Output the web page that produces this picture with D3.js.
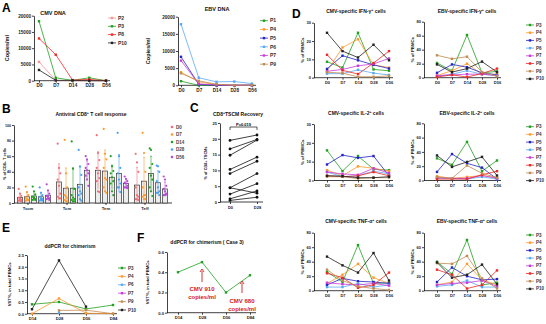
<!DOCTYPE html>
<html>
<head>
<meta charset="utf-8">
<script src="https://cdn.jsdelivr.net/npm/d3@7"></script>
<style>
  body { margin: 0; background: #fff; }
  svg { display: block; }
</style>
</head>
<body>
<svg width="546" height="324"></svg>
<script>
const svg = d3.select("svg").attr("font-family", "'Liberation Sans', Arial, sans-serif");

// ---------- data ----------
const days = ["D0", "D7", "D14", "D28", "D56"];
const colors = {
  P1: "#22a022", P2: "#f59292", P3: "#22a022", P4: "#ff9a2e", P5: "#2323c8",
  P6: "#5aa9f5", P7: "#c83cdc", P8: "#f02828", P9: "#c08c50", P10: "#222222"
};

// A: viral load
const cmvPatients = ["P2", "P3", "P8", "P10"];
const cmvDNA = [
  [5800, 100, 0, 0, 0],
  [18300, 900, 100, 900, 0],
  [13000, 8000, 200, 400, 0],
  [3300, 100, 100, 0, 0]
];
const ebvPatients = ["P1", "P4", "P5", "P6", "P7", "P9"];
const ebvDNA = [
  [1200, 0, 0, 0, 0],
  [3800, 1000, 200, 0, 0],
  [8300, 300, 0, 0, 0],
  [17800, 2200, 1000, 1100, 500],
  [7200, 400, 100, 0, 0],
  [3500, 1300, 300, 0, 0]
];

// B: antiviral CD8 subsets (dots per day)
const subsets = ["Tscm", "Tcm", "Tem", "Teff"];
const dayColors = ["#f0707a", "#ff9a2e", "#22a022", "#4aa0f0", "#b84ad8"];
const tscmDots = [
  [18, 12, 9, 7, 5, 4, 3, 3, 2],
  [21, 14, 10, 7, 5, 4, 3, 4, 4],
  [21, 15, 11, 8, 6, 5, 4, 7, 4],
  [20, 13, 10, 8, 6, 5, 3, 4, 3],
  [24, 16, 12, 9, 8, 6, 5, 6, 4]
];
const tcmDots = [
  [76, 45, 38, 30, 22, 12, 8, 6, 6],
  [81, 38, 20, 10, 8, 6, 4, 2, 2],
  [79, 44, 18, 10, 7, 5, 4, 2, 2],
  [68, 47, 36, 20, 15, 12, 10, 5, 3],
  [60, 56, 50, 45, 42, 38, 35, 30, 22]
];
const temDots = [
  [87, 64, 55, 45, 38, 32, 28, 15, 14],
  [95, 63, 56, 45, 32, 30, 20, 15, 13],
  [60, 47, 41, 38, 33, 28, 25, 15, 10],
  [90, 60, 45, 38, 30, 25, 20, 20, 14],
  [34, 31, 28, 26, 25, 22, 20, 20, 19]
];
const teffDots = [
  [63, 52, 40, 20, 10, 8, 5, 5, 4],
  [90, 64, 40, 20, 10, 10, 8, 5, 5],
  [70, 68, 50, 45, 35, 30, 20, 15, 9],
  [48, 47, 40, 28, 20, 15, 13, 13, 10],
  [34, 30, 22, 18, 15, 12, 10, 10, 11]
];

// C: TSCM recovery, paired
const tscmD0 = [19.5, 16.8, 14.8, 10.3, 9.0, 4.5, 4.5, 2.5, 1.0, 0.5];
const tscmD28 = [21.2, 19.8, 19.6, 14.2, 12.9, 9.0, 2.8, 5.8, 3.5, 1.5];

// D: virus specific cytokine producing cells (P3..P10)
const dPatients = ["P3", "P4", "P5", "P6", "P7", "P8", "P9", "P10"];
const cmvIFN = [
  [8.7, 5.5, 24.5, 4.5, 3.8], [3.5, 16.5, 21, 7, 5.5], [4.8, 12, 9.5, 7, 5],
  [2.2, 2.2, 4.3, 2.5, 1.5], [3.5, 4.5, 6.5, 7.5, 10.5], [12.5, 4, 2, 8, 14.5],
  [3, 2.5, 0.5, 0.5, 1], [24.5, 14.5, 11, 18, 9.5]
];
const ebvIFN = [
  [21, 10, 61, 7, 9], [3, 10, 20, 5, 5], [7, 19, 15, 7, 4], [2, 5, 10, 5, 3],
  [3, 4, 5, 5, 3], [1, 4, 1, 6, 13], [32, 27, 30, 8, 2], [19, 8, 13, 23, 8]
];
const cmvIL2 = [
  [16, 5, 13, 6, 5.5], [5.5, 2.5, 7.5, 6.5, 5], [8.5, 13.5, 12, 13, 2.5],
  [4.5, 2, 2.5, 5, 3.5], [4.5, 3.5, 3, 6.5, 4], [2.5, 2, 2.5, 4.5, 2.5],
  [2, 2, 1, 1.5, 1.5], [2.5, 2.3, 1.5, 1.5, 2]
];
const ebvIL2 = [
  [31, 22, 54, 13, 28], [6, 3, 5, 7, 4], [12, 37, 24, 18, 2], [3, 3, 2, 5, 2],
  [4, 3, 3, 7, 3], [2, 2, 2, 8, 13], [5, 3, 21, 10, 4], [35, 19, 26, 33, 7]
];
const cmvTNF = [
  [26, 12, 63, 10, 11], [10, 22, 37, 18, 10], [8, 17, 13, 12, 10], [5, 5, 10, 5, 8],
  [11, 9, 8, 10, 7], [24, 18, 4, 8, 25], [29, 14, 6, 3, 1], [47, 35, 25, 52, 14]
];
const ebvTNF = [
  [40, 23, 70, 8, 11], [8, 12, 37, 15, 8], [12, 32, 20, 15, 16], [6, 8, 14, 5, 5],
  [8, 10, 11, 14, 6], [29, 22, 3, 8, 28], [38, 37, 48, 17, 3], [39, 18, 22, 36, 9]
];

// E / F: chimerism
const chimDays = ["D14", "D28", "D56", "D84"];
const chimPatients = ["P3", "P4", "P6", "P7", "P9", "P10"];
const chimVST = [
  [0.4, 0.5, 0.2, 0.37],
  [0, 0.65, 0.02, 0],
  [null, 0.05, null, null],
  [null, null, null, null],
  [null, 0.14, 0.15, 0],
  [0.19, 2.27, 0.3, null]
];
const case3VST = [0.4, 0.5, 0.2, 0.37];

// ---------- helpers ----------
// text with superscript parts: ["CD8", ["+"], " T cells"]
function richText(parent, parts, size, anchor = "middle") {
  const t = parent.append("text").attr("text-anchor", anchor)
    .attr("font-size", size).attr("font-weight", "bold").attr("fill", "#111");
  let up = false;
  parts.forEach(p => {
    const sup = Array.isArray(p);
    const s = t.append("tspan").text(sup ? p[0] : p);
    if (sup) s.attr("dy", -size * 0.4).attr("font-size", size * 0.7);
    else if (up) s.attr("dy", size * 0.4);
    up = sup;
  });
  return t;
}

function styleAxis(a, size) {
  a.selectAll("path, line").attr("stroke", "#111").attr("stroke-width", 0.8);
  a.selectAll("text").attr("font-size", size).attr("font-weight", "bold").attr("fill", "#222");
}

function panelLetter(x, y, s) {
  svg.append("text").attr("x", x).attr("y", y).attr("font-size", 12)
    .attr("font-weight", "bold").text(s);
}

function lineChart(c) {
  const g = svg.append("g");
  const x = d3.scalePoint().domain(c.cats).range([c.x0, c.x1]);
  const y = d3.scaleLinear().domain(c.yDomain).range([c.yBot, c.yTop]);

  const ya = g.append("g").attr("transform", `translate(${c.axisX},0)`)
    .call(d3.axisLeft(y).tickValues(c.yTicks).tickSize(2).tickSizeOuter(0).tickPadding(1)
      .tickFormat(c.fmt || d3.format("d")));
  styleAxis(ya, c.tick);
  const xa = g.append("g").attr("transform", `translate(0,${c.yBot})`)
    .call(d3.axisBottom(x).tickSize(2).tickPadding(1.5));
  xa.select(".domain").attr("d", `M${c.axisX},0H${c.xEnd}`);
  styleAxis(xa, c.tick);

  c.series.forEach((vals, i) => {
    const col = colors[c.names[i]];
    const pts = vals.map((v, j) => [c.cats[j], v]).filter(p => p[1] != null);
    g.append("path").datum(pts)
      .attr("fill", "none").attr("stroke", col).attr("stroke-width", 0.8)
      .attr("d", d3.line().x(p => x(p[0])).y(p => y(p[1])));
    g.selectAll(null).data(pts).join("rect")
      .attr("x", p => x(p[0]) - 1.2).attr("y", p => y(p[1]) - 1.2)
      .attr("width", 2.4).attr("height", 2.4).attr("fill", col);
  });

  richText(g.append("g").attr("transform", `translate(${c.titleX},${c.titleY})`), c.title, c.titleSize || 5);
  richText(g.append("g").attr("transform", `translate(${c.ylabX},${(c.yTop + c.yBot) / 2}) rotate(-90)`),
    c.ylab, c.ylabSize || 4.5);

  if (c.legend) {
    const L = c.legend;
    c.names.forEach((n, i) => {
      const ly = L.y + i * L.dy;
      g.append("line").attr("x1", L.x - 4).attr("x2", L.x + 4).attr("y1", ly).attr("y2", ly)
        .attr("stroke", colors[n]).attr("stroke-width", 0.8);
      g.append("rect").attr("x", L.x - 1.2).attr("y", ly - 1.2).attr("width", 2.4).attr("height", 2.4)
        .attr("fill", colors[n]);
      g.append("text").attr("x", L.x + 6).attr("y", ly + L.size * 0.35).attr("font-size", L.size)
        .attr("font-weight", "bold").attr("fill", "#333").text(n);
    });
  }
  return { g, x, y };
}

// ---------- A ----------
panelLetter(2, 12, "A");
lineChart({
  cats: days, series: cmvDNA, names: cmvPatients,
  axisX: 34, x0: 39, x1: 106, xEnd: 110, yTop: 15.7, yBot: 80.7,
  yDomain: [0, 20000], yTicks: [0, 5000, 10000, 15000, 20000], tick: 4.6,
  title: ["CMV DNA"], titleX: 53, titleY: 15, titleSize: 5.5,
  ylab: ["Copies/ml"], ylabX: 9, ylabSize: 5.5,
  legend: { x: 112, y: 18, dy: 8.3, size: 5 }
});
lineChart({
  cats: days, series: ebvDNA, names: ebvPatients,
  axisX: 178, x0: 181, x1: 252, xEnd: 256, yTop: 16.7, yBot: 85.3,
  yDomain: [0, 20000], yTicks: [0, 5000, 10000, 15000, 20000], tick: 4.6,
  title: ["EBV DNA"], titleX: 217, titleY: 11, titleSize: 5.5,
  ylab: ["Copies/ml"], ylabX: 150, ylabSize: 5.5,
  legend: { x: 264, y: 20.7, dy: 8.7, size: 5 }
});

// ---------- B ----------
panelLetter(2, 113, "B");
(function () {
  const g = svg.append("g");
  const groups = [tscmDots, tcmDots, temDots, teffDots];
  const x = d3.scaleBand().domain(subsets).range([14.5, 170.5]);
  const xd = d3.scaleBand().domain(days).range([2, 37]);
  const y = d3.scaleLinear().domain([0, 100]).range([203, 125]);

  const ya = g.append("g").attr("transform", "translate(14,0)")
    .call(d3.axisLeft(y).ticks(5).tickSize(2).tickSizeOuter(0).tickPadding(1));
  styleAxis(ya, 3.6);
  const xa = g.append("g").attr("transform", "translate(-6,203)")
    .call(d3.axisBottom(x).tickSize(2).tickPadding(2));
  xa.select(".domain").attr("d", "M20,0H178");
  styleAxis(xa, 4.2);

  groups.forEach((grp, gi) => {
    grp.forEach((vals, k) => {
      const cx = x(subsets[gi]) + xd(days[k]) + xd.bandwidth() / 2;
      const m = d3.mean(vals), sd = d3.deviation(vals);
      const col = dayColors[k];
      g.append("rect").attr("x", cx - 2.6).attr("width", 5.2)
        .attr("y", y(m)).attr("height", y(0) - y(m))
        .attr("fill", "#ececec").attr("stroke", "#333").attr("stroke-width", 0.7);
      g.append("line").attr("x1", cx).attr("x2", cx)
        .attr("y1", y(Math.max(0, m - sd))).attr("y2", y(m + sd))
        .attr("stroke", col).attr("stroke-width", 0.6);
      g.append("line").attr("x1", cx - 1).attr("x2", cx + 1)
        .attr("y1", y(m + sd)).attr("y2", y(m + sd)).attr("stroke", col).attr("stroke-width", 0.6);
      g.selectAll(null).data(vals).join("circle")
        .attr("cx", (v, i) => cx + ((i % 3) - 1) * 1.3).attr("cy", v => y(v))
        .attr("r", 1.1).attr("fill", col);
    });
  });

  richText(g.append("g").attr("transform", "translate(91,116)"),
    ["Antiviral CD8", ["+"], " T cell response"], 5);
  richText(g.append("g").attr("transform", "translate(6,164) rotate(-90)"),
    ["% of CD8+ T cells"], 3.8);

  days.forEach((d, k) => {
    const ly = 127 + k * 7.5;
    g.append("circle").attr("cx", 172).attr("cy", ly).attr("r", 1.3).attr("fill", dayColors[k]);
    g.append("text").attr("x", 176).attr("y", ly + 1.6).attr("font-size", 4.5)
      .attr("font-weight", "bold").attr("fill", "#444").text(d);
  });
})();

// ---------- C ----------
panelLetter(190, 112, "C");
(function () {
  const g = svg.append("g");
  const x = d3.scalePoint().domain(["D0", "D28"]).range([230, 257]);
  const y = d3.scaleLinear().domain([0, 25]).range([202, 123]);
  const ya = g.append("g").attr("transform", "translate(220,0)")
    .call(d3.axisLeft(y).tickValues([0, 5, 10, 15, 20, 25]).tickSize(2).tickSizeOuter(0).tickPadding(1));
  styleAxis(ya, 4);
  const xa = g.append("g").attr("transform", "translate(0,202)")
    .call(d3.axisBottom(x).tickSize(2).tickPadding(2));
  xa.select(".domain").attr("d", "M220,0H263");
  styleAxis(xa, 4);

  tscmD0.forEach((v, i) => {
    g.append("line").attr("x1", x("D0")).attr("x2", x("D28"))
      .attr("y1", y(v)).attr("y2", y(tscmD28[i])).attr("stroke", "#111").attr("stroke-width", 0.8);
    g.append("circle").attr("cx", x("D0")).attr("cy", y(v)).attr("r", 1.4).attr("fill", "#111");
    g.append("circle").attr("cx", x("D28")).attr("cy", y(tscmD28[i])).attr("r", 1.4).attr("fill", "#111");
  });

  g.append("path").attr("d", `M${x("D0")},130V127H${x("D28")}V130`)
    .attr("fill", "none").attr("stroke", "#111").attr("stroke-width", 0.7);
  g.append("text").attr("x", (x("D0") + x("D28")) / 2).attr("y", 125.5).attr("text-anchor", "middle")
    .attr("font-size", 4).attr("font-weight", "bold").text("P=0.019");
  richText(g.append("g").attr("transform", "translate(238,116)"),
    ["CD8", ["+"], "TSCM Recovery"], 5);
  richText(g.append("g").attr("transform", "translate(207,163) rotate(-90)"),
    ["% of CD8+ TSCMs"], 3.8);
})();

// ---------- D ----------
panelLetter(292, 18, "D");
const dRows = [
  { top: [22.7, 21.7], bot: 77.7, ty: 13, left: cmvIFN, right: ebvIFN, ld: [30, 80],
    tl: ["CMV-specific IFN-γ", ["+"], " cells"], tr: ["EBV-specific IFN-γ", ["+"], " cells"], leg: 25 },
  { top: [124, 123.3], bot: 180.5, ty: 115, left: cmvIL2, right: ebvIL2, ld: [30, 80],
    tl: ["CMV-specific IL-2", ["+"], " cells"], tr: ["EBV-specific IL-2", ["+"], " cells"], leg: 126.7 },
  { top: [232.7, 232.7], bot: 290.7, ty: 223, left: cmvTNF, right: ebvTNF, ld: [80, 80],
    tl: ["CMV-specific TNF-α", ["+"], " cells"], tr: ["EBV-specific TNF-α", ["+"], " cells"], leg: 235 }
];
dRows.forEach(r => {
  [0, 1].forEach(side => {
    const max = r.ld[side];
    lineChart({
      cats: days, series: side ? r.right : r.left, names: dPatients,
      axisX: side ? 424 : 314, x0: side ? 437 : 327, x1: side ? 497 : 389, xEnd: side ? 501 : 393,
      yTop: r.top[side], yBot: r.bot,
      yDomain: [0, max], yTicks: max === 30 ? [0, 10, 20, 30] : [0, 20, 40, 60, 80], tick: 4,
      title: side ? r.tr : r.tl, titleX: side ? 467 : 356, titleY: r.ty, titleSize: 5,
      ylab: ["% of PBMCs"], ylabX: side ? 414 : 304, ylabSize: 4.3,
      legend: side ? { x: 530, y: r.leg, dy: 7.7, size: 4.5 } : null
    });
  });
});

// ---------- E ----------
panelLetter(2, 232, "E");
lineChart({
  cats: chimDays, series: chimVST, names: chimPatients,
  axisX: 27, x0: 32, x1: 113, xEnd: 117, yTop: 255, yBot: 313.7,
  yDomain: [0, 2.5], yTicks: [0, 0.5, 1, 1.5, 2, 2.5], fmt: d3.format(".1f"), tick: 4.2,
  title: ["ddPCR for chimerism"], titleX: 70, titleY: 248, titleSize: 5,
  ylab: ["VST%, in total PBMCs"], ylabX: 11, ylabSize: 4.2,
  legend: { x: 122, y: 268, dy: 8.4, size: 4.5 }
});

// ---------- F ----------
panelLetter(137, 242, "F");
const fChart = lineChart({
  cats: chimDays, series: [case3VST], names: ["P3"],
  axisX: 167, x0: 178, x1: 250, xEnd: 256, yTop: 252, yBot: 312.7,
  yDomain: [0, 0.6], yTicks: [0, 0.2, 0.4, 0.6], fmt: d3.format(".1f"), tick: 4.2,
  title: ["ddPCR for chimerism ( Case 3)"], titleX: 207, titleY: 244, titleSize: 5,
  ylab: ["VST%, in total PBMCs"], ylabX: 149, ylabSize: 4.2
});
// red annotations
const notes = [
  { x: fChart.x("D28"), y0: 282, y1: 269, t: ["CMV 910", "copies/ml"], ty: 291 },
  { x: (fChart.x("D56") + fChart.x("D84")) / 2 + 4, y0: 293, y1: 281, t: ["CMV 680", "copies/ml"], ty: 303 }
];
notes.forEach(n => {
  fChart.g.append("line").attr("x1", n.x).attr("x2", n.x).attr("y1", n.y0).attr("y2", n.y1 + 2)
    .attr("stroke", "#d42020").attr("stroke-width", 0.9);
  fChart.g.append("path").attr("d", `M${n.x - 2},${n.y1 + 3}L${n.x},${n.y1}L${n.x + 2},${n.y1 + 3}`)
    .attr("fill", "none").attr("stroke", "#d42020").attr("stroke-width", 0.9);
  n.t.forEach((s, i) => {
    fChart.g.append("text").attr("x", n.x).attr("y", n.ty + i * 8).attr("text-anchor", "middle")
      .attr("font-size", 6).attr("font-weight", "bold").attr("fill", "#d42020").text(s);
  });
});
</script>
</body>
</html>
